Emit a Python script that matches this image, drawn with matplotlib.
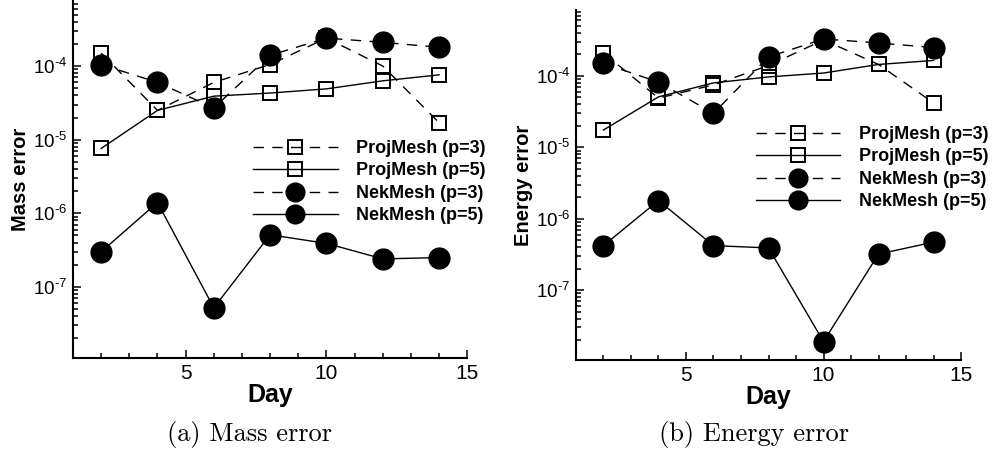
import math
import matplotlib
matplotlib.use("Agg")
import matplotlib.pyplot as plt
import matplotlib.ticker as mticker

plt.rcParams['font.family'] = 'Liberation Sans'
plt.rcParams['mathtext.fontset'] = 'custom'
plt.rcParams['mathtext.rm'] = 'Liberation Sans'
plt.rcParams['mathtext.it'] = 'Liberation Sans:italic'
plt.rcParams['mathtext.bf'] = 'Liberation Sans:bold'

# dados
days = [2, 4, 6, 8, 10, 12, 14]

mass_proj_p3 = [1.5e-4, 2.5e-5, 6.0e-5, 1.05e-4, 2.4e-4, 1.0e-4, 1.7e-5]
mass_proj_p5 = [7.6e-6, 2.5e-5, 3.9e-5, 4.3e-5, 4.9e-5, 6.3e-5, 7.6e-5]
mass_nek_p3 = [1.05e-4, 6.0e-5, 2.7e-5, 1.4e-4, 2.4e-4, 2.1e-4, 1.8e-4]
mass_nek_p5 = [3.0e-7, 1.4e-6, 5.2e-8, 5.1e-7, 3.9e-7, 2.4e-7, 2.5e-7]

energy_proj_p3 = [2.1e-4, 4.9e-5, 7.5e-5, 1.4e-4, 3.2e-4, 1.45e-4, 4.2e-5]
energy_proj_p5 = [1.75e-5, 5.1e-5, 8.0e-5, 9.7e-5, 1.1e-4, 1.45e-4, 1.65e-4]
energy_nek_p3 = [1.5e-4, 8.2e-5, 3.0e-5, 1.85e-4, 3.3e-4, 2.9e-4, 2.5e-4]
energy_nek_p5 = [4.2e-7, 1.8e-6, 4.2e-7, 3.9e-7, 1.9e-8, 3.2e-7, 4.7e-7]

labels = ["ProjMesh (p=3)", "ProjMesh (p=5)", "NekMesh (p=3)", "NekMesh (p=5)"]
dash = (7.5, 6)


def exp_label(v, pos):
    e = int(round(math.log10(v)))
    if e < 0:
        return r"$10^{\text{-}%d}$" % abs(e)
    return r"$10^{%d}$" % e


def draw_panel(ax, series, ylabel, ylim, legend_anchor):
    styles = [
        dict(marker='s', mfc='none', mec='black', ms=10.5, mew=1.4, dashes=dash),
        dict(marker='s', mfc='none', mec='black', ms=10.5, mew=1.4, linestyle='-'),
        dict(marker='o', mfc='black', mec='black', ms=15, dashes=dash),
        dict(marker='o', mfc='black', mec='black', ms=15, linestyle='-'),
    ]
    for vals, lab, st in zip(series, labels, styles):
        ax.plot(days, vals, color='black', lw=1.0, label=lab, **st)

    ax.set_yscale('log')
    ax.set_xlim(1, 15)
    ax.set_ylim(*ylim)
    ax.xaxis.set_major_locator(mticker.MultipleLocator(5))
    ax.xaxis.set_minor_locator(mticker.MultipleLocator(1))
    ax.yaxis.set_major_locator(mticker.LogLocator(base=10, numticks=20))
    ax.yaxis.set_minor_locator(mticker.LogLocator(base=10, subs=range(2, 10), numticks=20))
    ax.yaxis.set_minor_formatter(mticker.NullFormatter())
    ax.yaxis.set_major_formatter(mticker.FuncFormatter(exp_label))

    ax.spines['top'].set_visible(False)
    ax.spines['right'].set_visible(False)
    ax.spines['left'].set_linewidth(1.5)
    ax.spines['bottom'].set_linewidth(1.5)
    ax.tick_params(which='both', direction='in', width=1.1, top=False, right=False)
    ax.tick_params(which='major', length=6)
    ax.tick_params(which='minor', length=3.5)
    ax.tick_params(axis='x', labelsize=15, pad=4)
    ax.tick_params(axis='y', labelsize=13.5, pad=4)

    ax.set_xlabel("Day", fontsize=18, fontweight='bold', labelpad=0)
    ax.set_ylabel(ylabel, fontsize=14.5, fontweight='bold', labelpad=2)

    ax.legend(loc='upper right', bbox_to_anchor=legend_anchor,
              bbox_transform=fig.transFigure, frameon=False,
              prop=dict(size=13, weight='bold'), handlelength=4.7,
              handletextpad=1.0, labelspacing=0.3, borderpad=0,
              borderaxespad=0, markerscale=0.9)


fig = plt.figure(figsize=(9.92, 4.57), dpi=100)
ax1 = fig.add_axes([0.0736, 0.2166, 0.3974, 0.7834])
ax2 = fig.add_axes([0.5806, 0.2123, 0.3882, 0.7658])

draw_panel(ax1, [mass_proj_p3, mass_proj_p5, mass_nek_p3, mass_nek_p5],
           "Mass error", (1.08e-8, 7.9e-4), (0.489, 1 - 140 / 457))
draw_panel(ax2, [energy_proj_p3, energy_proj_p5, energy_nek_p3, energy_nek_p5],
           "Energy error", (1.05e-8, 8.4e-4), (0.996, 1 - 126 / 457))

fig.text(0.252, 1 - 434 / 457, "(a) Mass error", family='cmr10', fontsize=19,
         ha='center', va='center')
fig.text(0.760, 1 - 435 / 457, "(b) Energy error", family='cmr10', fontsize=19,
         ha='center', va='center')

fig.savefig("out.png", dpi=100)
plt.close()
